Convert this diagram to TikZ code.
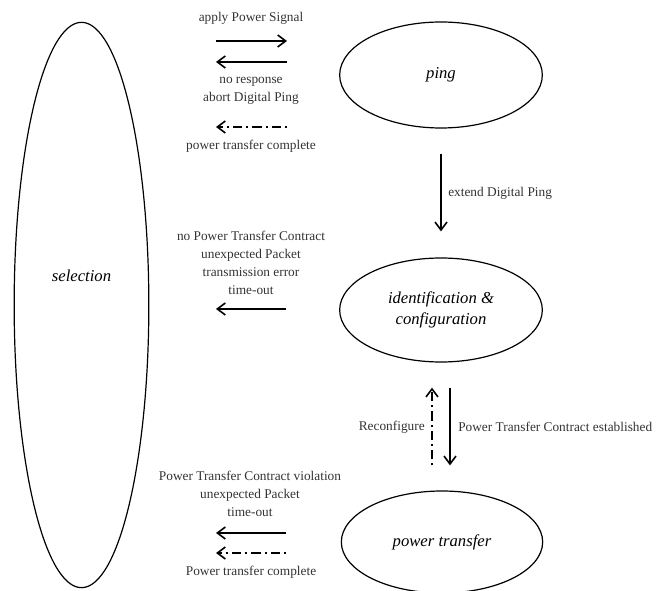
\documentclass[tikz,border=0pt]{standalone}
\usepackage{fontspec}
\setmainfont{Liberation Serif}
\usetikzlibrary{
    arrows.meta,
    shapes.geometric
}

\begin{document}
\begin{tikzpicture}[
        x=0.75pt,
        y=-0.75pt,
        >={Straight Barb[length=6pt,width=9pt]},
        state/.style={
            ellipse,
            draw,
            line width=0.9pt,
            inner sep=0pt,
            font=\itshape\fontsize{12.5}{15.5}\selectfont
        },
        lbl/.style={
            align=center,
            inner sep=0pt,
            text=black!80,
            font=\fontsize{10}{13.5}\selectfont
        },
        flow/.style={->, line width=1.2pt},
        back/.style={->, line width=1.2pt, dash pattern=on 1.5pt off 3pt on 7pt off 3pt}
    ]
    \useasboundingbox (0,0) rectangle (657,591);

    \node[state, minimum width=101pt, minimum height=424pt,
        label={[font=\itshape\fontsize{12.5}{15.5}\selectfont, yshift=22pt]center:selection}] (sel) at (81.5,305) {};
    \node[state, minimum width=152pt, minimum height=79.5pt] (ping) at (441,75) {ping};
    \node[state, minimum width=152pt, minimum height=78pt, align=center] (ident) at (441,310) {identification \&\\configuration};
    \node[state, minimum width=151pt, minimum height=76.5pt] (pt) at (442,542) {power transfer};

    \coordinate (s1) at (216,41);  \coordinate (p1) at (287,41);
    \coordinate (s2) at (216,62);  \coordinate (p2) at (287,62);
    \coordinate (s3) at (216,127); \coordinate (p3) at (287,127);
    \coordinate (s4) at (216,309); \coordinate (p4) at (286,309);
    \coordinate (s5) at (216,533); \coordinate (p5) at (286,533);
    \coordinate (s6) at (216,553); \coordinate (p6) at (286,553);

    \draw[flow] (s1) -- (p1);
    \draw[flow] (p2) -- (s2);
    \draw[back] (p3) -- (s3);
    \draw[flow] (p4) -- (s4);
    \draw[flow] (p5) -- (s5);
    \draw[back] (p6) -- (s6);

    \draw[flow, shorten <=18.75pt, shorten >=19.5pt] (ping) -- (ident);
    \draw[flow, shorten <=18.75pt, shorten >=18.75pt] ([xshift=6.75pt]ident.south) -- ([xshift=6.75pt]ident.south |- pt.north);
    \draw[back, shorten <=18.75pt, shorten >=18.75pt] ([xshift=-6.75pt]ident.south |- pt.north) -- ([xshift=-6.75pt]ident.south);

    \node[lbl] (t1) at (251,18) {apply Power Signal};
    \node[lbl] (t2) at (251,91) {no response\\abort Digital Ping};
    \node[lbl] (t3) at (251,146) {power transfer complete};
    \node[lbl] (t4) at (251,262.5) {no Power Transfer Contract\\unexpected Packet\\transmission error\\time-out};
    \node[lbl] (t5) at (250,494) {Power Transfer Contract violation\\unexpected Packet\\time-out};
    \node[lbl] (t6) at (251,572) {Power transfer complete};
    \node[lbl, anchor=west] (t7) at (448,193) {extend Digital Ping};
    \node[lbl, anchor=east] (t8) at (425,427) {Reconfigure};
    \node[lbl, anchor=west] (t9) at (458,427) {Power Transfer Contract established};

\end{tikzpicture}
\end{document}
